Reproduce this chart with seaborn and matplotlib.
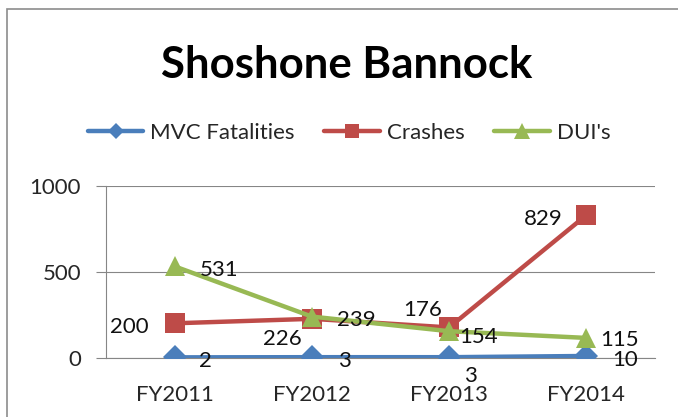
import numpy as np
import pandas as pd
import matplotlib
matplotlib.use('Agg')
import matplotlib.pyplot as plt
import seaborn as sns
from matplotlib.patches import Rectangle

years = ['FY2011', 'FY2012', 'FY2013', 'FY2014']
mvc_fatalities = [2, 3, 3, 10]
crashes = [200, 226, 176, 829]
duis = [531, 239, 154, 115]

sns.set_style('white')
plt.rcParams['font.family'] = ['Lato', 'DejaVu Sans']

W, H = 678, 417
fig = plt.figure(figsize=(W / 100, H / 100), dpi=100)
ax = fig.add_axes([106 / W, 1 - 357.7 / H, 549 / W, 172 / H])

gray = '#868686'
series = [
    ('MVC Fatalities', mvc_fatalities, '#4A7EBB', 'D', 12.5, 8.5),
    ('Crashes', crashes, '#BE4B48', 's', 14.0, 10.5),
    ("DUI's", duis, '#98B954', '^', 15.0, 11.0),
]

# label placement per point: (dx px, dy px, ha)
label_pos = {
    'MVC Fatalities': [(24, -2, 'left'), (26, -2, 'left'), (21, -17, 'center'), (26, -2, 'left')],
    'Crashes': [(-26, -2, 'right'), (-29, -18, 'center'), (-26, 19, 'center'), (-24, -2, 'right')],
    "DUI's": [(25, -2, 'left'), (25, -1, 'left'), (10, -4, 'left'), (14, 0, 'left')],
}

for name, vals, col, mk, ms, lms in series:
    df = pd.DataFrame({'year': years, 'value': vals})
    sns.lineplot(data=df, x='year', y='value', ax=ax, color=col, marker=mk,
                 markersize=ms, mec=col, mfc=col, mew=0, lw=3.2, label=name,
                 zorder=3)
    for i, v in enumerate(vals):
        dx, dy, ha = label_pos[name][i]
        ax.annotate(str(v), (i, v), xytext=(dx, dy), textcoords='offset pixels',
                    ha=ha, va='center_baseline', fontsize=16, color='#111111',
                    zorder=5)

ax.set_xlim(-0.5, 3.5)
ax.set_ylim(0, 1000)
ax.set_yticks([0, 500, 1000])
ax.set_xticks(range(4))
ax.set_xticklabels(years)
ax.set_xticks(np.arange(-0.5, 4, 1), minor=True)
ax.set_xlabel('')
ax.set_ylabel('')
ax.yaxis.grid(True, color=gray, lw=0.8)
ax.set_axisbelow(True)
ax.tick_params(axis='x', which='major', length=0, pad=19.5, labelsize=16)
ax.tick_params(axis='x', which='minor', length=5, width=0.8, color=gray, direction='out')
ax.tick_params(axis='y', length=7, width=0.8, color=gray, pad=11, labelsize=16, left=True)
for s in ['top', 'right']:
    ax.spines[s].set_visible(False)
for s in ['left', 'bottom']:
    ax.spines[s].set_color(gray)
    ax.spines[s].set_linewidth(0.8)

leg = ax.legend(loc='center', bbox_to_anchor=(349 / W, 1 - 133 / H),
                bbox_transform=fig.transFigure, ncol=3, frameon=False,
                fontsize=16, handlelength=2.5, handletextpad=0.3,
                columnspacing=1.35)
for h, (_, _, _, _, _, lms) in zip(leg.legend_handles, series):
    h.set_markersize(lms)

fig.text(347 / W, 1 - 62 / H, 'Shoshone Bannock', ha='center', va='center_baseline',
         fontsize=31.5, fontweight='bold', color='black')

fig.patches.append(Rectangle((7 / W, -0.1), 1.2, 1 - 9 / H + 0.1, transform=fig.transFigure,
                             fill=False, edgecolor='#8c8c8c', lw=1.2))

fig.savefig('out.png', dpi=100)
